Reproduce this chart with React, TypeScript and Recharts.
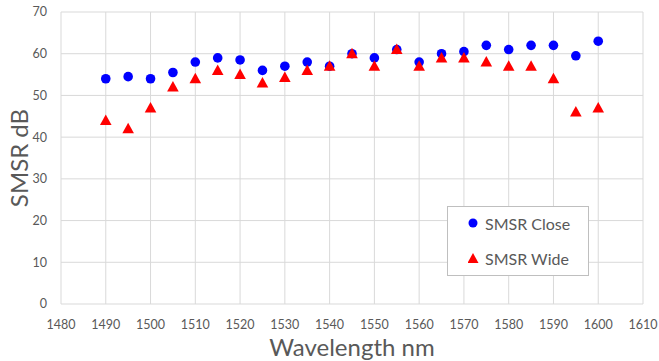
import React from 'react'
import { ScatterChart, Scatter, XAxis, YAxis, CartesianGrid, Label } from 'recharts'

const wavelengths = [1490, 1495, 1500, 1505, 1510, 1515, 1520, 1525, 1530, 1535, 1540, 1545, 1550, 1555, 1560, 1565, 1570, 1575, 1580, 1585, 1590, 1595, 1600]
const smsrClose = [54, 54.5, 54, 55.5, 58, 59, 58.5, 56, 57, 58, 57, 60, 59, 61, 58, 60, 60.5, 62, 61, 62, 62, 59.5, 63]
const smsrWide = [44, 42, 47, 52, 54, 56, 55, 53, 54.3, 56, 57, 60, 57, 61, 57, 59, 59, 58, 57, 57, 54, 46, 47]
const xTicks = [1480, 1490, 1500, 1510, 1520, 1530, 1540, 1550, 1560, 1570, 1580, 1590, 1600, 1610]
const yTicks = [0, 10, 20, 30, 40, 50, 60, 70]

const closeData = wavelengths.map((x, i) => ({ x, y: smsrClose[i] }))
const wideData = wavelengths.map((x, i) => ({ x, y: smsrWide[i] }))

const FONT = 'Lato, "Open Sans", sans-serif'
const TEXT = '#595959'

const Dot = (props: any) => <circle cx={props.cx} cy={props.cy} r={4.8} fill="#0000ff" />

const Tri = (props: any) => {
  const { cx, cy } = props
  return <path d={`M${cx},${cy - 6} L${cx + 5.8},${cy + 4.5} L${cx - 5.8},${cy + 4.5} Z`} fill="#ff0000" />
}

// legend sits over the plot, like the Excel one
const LegendBox = () => (
  <div style={{ position: 'absolute', left: 447, top: 206, border: '1px solid #bfbfbf', background: '#fff', width: 142, height: 70, fontFamily: FONT, fontSize: 16, color: TEXT, boxSizing: 'border-box', paddingTop: 3 }}>
    <div style={{ display: 'flex', alignItems: 'center', height: 26, paddingLeft: 20 }}>
      <svg width={12} height={12} style={{ marginRight: 5 }}><circle cx={5} cy={6} r={4.5} fill="#0000ff" /></svg>
      SMSR Close
    </div>
    <div style={{ display: 'flex', alignItems: 'center', height: 26, marginTop: 9, paddingLeft: 20 }}>
      <svg width={12} height={12} style={{ marginRight: 5 }}><path d="M5,1 L10.5,11 L-0.5,11 Z" fill="#ff0000" /></svg>
      SMSR Wide
    </div>
  </div>
)

export default function App() {
  return (
    <div style={{ position: 'absolute', left: 0, top: 0, width: 659, height: 361, background: '#fff' }}>
      <ScatterChart width={659} height={361} margin={{ top: 12, right: 16, left: 0, bottom: 0 }}>
        <CartesianGrid stroke="#d9d9d9" strokeWidth={1} />
        <XAxis
          type="number"
          dataKey="x"
          domain={[1480, 1610]}
          ticks={xTicks}
          height={57}
          tickLine={false}
          axisLine={false}
          tick={{ fill: TEXT, fontSize: 12.5, fontFamily: FONT }}
          tickMargin={10}
        >
          <Label value="Wavelength nm" position="insideBottom" offset={5} style={{ fill: TEXT, fontSize: 24, fontFamily: FONT }} />
        </XAxis>
        <YAxis
          type="number"
          dataKey="y"
          domain={[0, 70]}
          ticks={yTicks}
          width={61}
          tickLine={false}
          axisLine={false}
          tick={{ fill: TEXT, fontSize: 12.5, fontFamily: FONT }}
          tickMargin={8}
        >
          <Label value="SMSR dB" angle={-90} position="insideLeft" offset={19} style={{ fill: TEXT, fontSize: 24, fontFamily: FONT, textAnchor: 'middle' }} />
        </YAxis>
        <Scatter name="SMSR Close" data={closeData} shape={Dot} isAnimationActive={false} />
        <Scatter name="SMSR Wide" data={wideData} shape={Tri} isAnimationActive={false} />
      </ScatterChart>
      <LegendBox />
    </div>
  )
}
